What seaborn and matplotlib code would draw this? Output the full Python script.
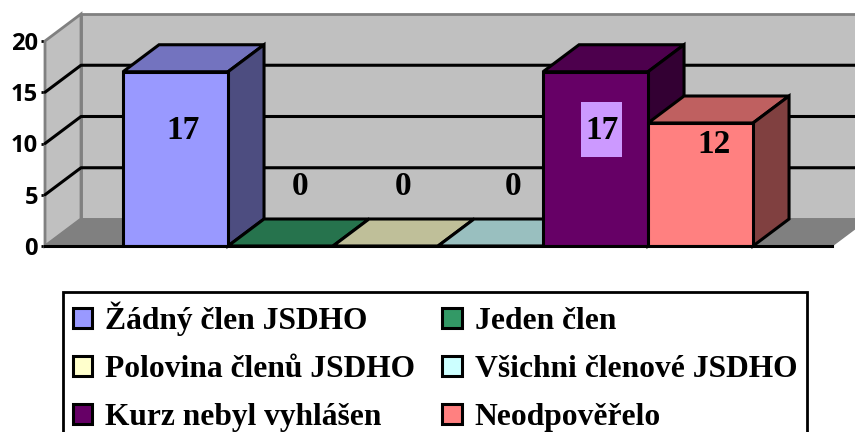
import matplotlib
matplotlib.use("Agg")
import matplotlib.pyplot as plt
import seaborn as sns
from matplotlib.patches import Polygon, Rectangle

categories = ["Žádný člen JSDHO", "Jeden člen", "Polovina členů JSDHO",
              "Všichni členové JSDHO", "Kurz nebyl vyhlášen", "Neodpověřelo"]
values = [17, 0, 0, 0, 17, 12]
colors = ["#9999FF", "#339966", "#FFFFCC", "#CCFFFF", "#660066", "#FF8080"]
y_ticks = [0, 5, 10, 15, 20]

# hand placed labels in the original, so they are not centred on the bars
label_dx = [0.07, 0.19, 0.17, 0.21, 0.06, 0.13]
label_y = [11.3, 5.8, 5.8, 5.8, 11.3, 9.9]

W, H = 855, 432
DEPTH_X = 36 / 105    # one category is 105 px wide
DEPTH_Y = 27 / 10.25  # one unit is 10.25 px high
X0, X1 = -1.243, 6.252
LW = 2.2


def shade(color, f):
    r, g, b = matplotlib.colors.to_rgb(color)
    return (r * f, g * f, b * f)


sns.set_theme(style="white")
plt.rcParams["font.family"] = ["Liberation Serif", "DejaVu Serif"]

fig = plt.figure(figsize=(W / 100, H / 100), dpi=100)
ax = fig.add_axes([45 / W, (H - 246) / H, 787 / W, 205 / H])
ax.patch.set_alpha(0)

sns.barplot(x=categories, y=values, hue=categories, palette=colors, saturation=1,
            width=1, dodge=False, edgecolor="black", linewidth=LW, zorder=3,
            legend=True, ax=ax)
ax.set_xlim(X0, X1)
ax.set_ylim(0, 20)

top = 20 + DEPTH_Y
bx0, bx1 = X0 + DEPTH_X, X1 + DEPTH_X

# walls and floor
ax.add_patch(Polygon([(bx0, DEPTH_Y), (bx1, DEPTH_Y), (bx1, top), (bx0, top)],
                     fc="#C0C0C0", ec="#808080", lw=2, clip_on=False, zorder=0.5))
ax.add_patch(Polygon([(X0, 0), (bx0, DEPTH_Y), (bx0, top), (X0, 20)],
                     fc="#C0C0C0", ec="#808080", lw=2, clip_on=False, zorder=0.6))
ax.add_patch(Polygon([(X0, 0), (X1, 0), (bx1, DEPTH_Y), (bx0, DEPTH_Y)],
                     fc="#808080", ec="#808080", lw=1, clip_on=False, zorder=0.7))

for t in y_ticks[1:-1]:
    ax.plot([X0, bx0, bx1], [t, t + DEPTH_Y, t + DEPTH_Y], color="black", lw=LW,
            clip_on=False, zorder=1)

# 3d faces of the bars
for i, (v, c) in enumerate(zip(values, colors)):
    l, r = i - 0.5, i + 0.5
    ax.add_patch(Polygon([(l, v), (r, v), (r + DEPTH_X, v + DEPTH_Y), (l + DEPTH_X, v + DEPTH_Y)],
                         fc=shade(c, 0.75), ec="black", lw=LW, clip_on=False,
                         joinstyle="miter", zorder=2 + i * 0.1))
    if v > 0:
        ax.add_patch(Polygon([(r, 0), (r + DEPTH_X, DEPTH_Y), (r + DEPTH_X, v + DEPTH_Y), (r, v)],
                             fc=shade(c, 0.5), ec="black", lw=LW, clip_on=False,
                             joinstyle="miter", zorder=2 + i * 0.1))

# light box behind the label of the dark bar
ax.add_patch(Rectangle((4 + label_dx[4] - 0.195, 8.68), 0.39, 5.37, fc="#CC99FF", ec="none", zorder=4))

for i, (v, dx, ly) in enumerate(zip(values, label_dx, label_y)):
    ax.text(i + dx, ly, str(v), ha="center", va="center", fontsize=24,
            fontweight="bold", color="black", zorder=5)

ax.set_xticks([])
ax.set_yticks(y_ticks)
ax.tick_params(axis="y", left=True, length=3, width=2, color="black", labelcolor="black", pad=2)
for lab in ax.get_yticklabels():
    lab.set_fontfamily("Open Sans")
    lab.set_fontweight("bold")
    lab.set_fontsize(17)
ax.set_xlabel("")
ax.set_ylabel("")
for s in ["top", "right", "left"]:
    ax.spines[s].set_visible(False)
ax.spines["bottom"].set_color("black")
ax.spines["bottom"].set_linewidth(LW)
ax.spines["bottom"].set_zorder(4)

# legend reads row by row in the original, matplotlib fills column by column
handles = ax.get_legend().legend_handles
order = [0, 2, 4, 1, 3, 5]
ax.legend([handles[i] for i in order], [categories[i] for i in order],
          loc="upper left", bbox_to_anchor=(63 / W, 1 - 292 / H),
          bbox_transform=fig.transFigure, ncol=2, frameon=True,
          fancybox=False, edgecolor="black", framealpha=1, labelcolor="black",
          prop=dict(family="Liberation Serif", weight="bold", size=22.7),
          handlelength=0.62, handleheight=0.62, handletextpad=0.4,
          columnspacing=0.87, labelspacing=0.6, borderpad=0.31,
          borderaxespad=0)
ax.get_legend().get_frame().set_linewidth(2)

fig.savefig("out.png", dpi=100)
plt.close(fig)
